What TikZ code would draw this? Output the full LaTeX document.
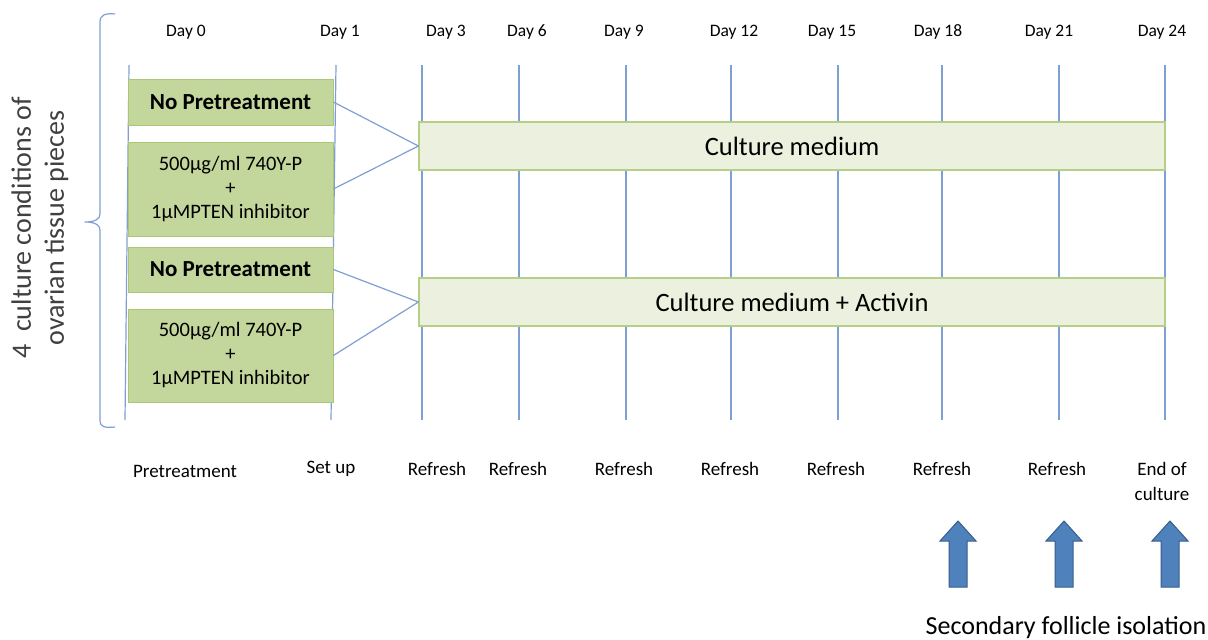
\documentclass[tikz,border=0pt]{standalone}
\usepackage{fontspec}
\setmainfont{Carlito}
\definecolor{vline}{HTML}{7F9FD3}
\definecolor{gfill}{HTML}{C3D69B}
\definecolor{gdraw}{HTML}{A9C774}
\definecolor{lfill}{HTML}{EBF1DE}
\definecolor{ldraw}{HTML}{B5CF85}
\definecolor{afill}{HTML}{4F81BD}
\definecolor{adraw}{HTML}{385D8A}
\definecolor{sidetext}{HTML}{404040}
\tikzset{
  vl/.style={draw=vline, line width=1.2pt},
  gbox/.style={draw=gdraw, fill=gfill, line width=0.8pt, minimum width=205pt, inner sep=0pt, align=center, text=black},
  lbox/.style={draw=ldraw, fill=lfill, line width=1.2pt, minimum width=746pt, minimum height=48pt, inner sep=0pt, font=\fontsize{26.5}{30}\selectfont, text=black},
  conn/.style={draw=vline, line width=1.2pt},
  daylab/.style={font=\fontsize{17.5}{20}\selectfont, text=black, inner sep=0pt},
  botlab/.style={font=\fontsize{19}{25}\selectfont, text=black, inner sep=0pt, align=center},
  uparrow/.style={draw=adraw, fill=afill, line width=1pt}
}
\begin{document}
\begin{tikzpicture}[x=1pt,y=-1pt]
\useasboundingbox (0,0) rectangle (1208,640);
% vertical timeline lines
\draw[vl] (129,65) -- (125,420);
\draw[vl] (336,65) -- (331,420);
\foreach \xx in {422,519,626,731,838,942,1059,1165}
  \draw[vl] (\xx,65) -- (\xx,420);
% day labels
\node[daylab] (d0) at (186,32) {Day 0};
\node[daylab] (d1) at (340,32) {Day 1};
\node[daylab] (d3) at (446,32) {Day 3};
\node[daylab] (d6) at (527,32) {Day 6};
\node[daylab] (d9) at (624,32) {Day 9};
\node[daylab] (d12) at (734,32) {Day 12};
\node[daylab] (d15) at (832,32) {Day 15};
\node[daylab] (d18) at (938,32) {Day 18};
\node[daylab] (d21) at (1049,32) {Day 21};
\node[daylab] (d24) at (1162,32) {Day 24};
% green boxes
\node[gbox, minimum height=46pt, font=\bfseries\fontsize{23}{24}\selectfont] (b1) at (230.5,102) {No Pretreatment};
\node[gbox, minimum height=94pt, font=\fontsize{20.5}{24}\selectfont] (b2) at (230.5,189) {500µg/ml 740Y-P\\+\\1µMPTEN inhibitor};
\node[gbox, minimum height=45pt, font=\bfseries\fontsize{23}{24}\selectfont] (b3) at (230.5,269.5) {No Pretreatment};
\node[gbox, minimum height=93pt, font=\fontsize{20.5}{24}\selectfont] (b4) at (230.5,355.5) {500µg/ml 740Y-P\\+\\1µMPTEN inhibitor};
% culture boxes
\node[lbox] (c1) at (792,146) {Culture medium};
\node[lbox] (c2) at (792,302) {Culture medium + Activin};
% connectors
\draw[conn] (b1.east) -- (c1.west);
\draw[conn] (b2.east) -- (c1.west);
\draw[conn] (b3.east) -- (c2.west);
\draw[conn] (b4.east) -- (c2.west);
% brace
\draw[vline, line width=1.2pt, line join=round]
  (115,14) .. controls (105,13) and (100,15) .. (100,22)
  -- (100,214) .. controls (100,219) and (95,222) .. (85,222)
  .. controls (95,222) and (100,225) .. (100,230)
  -- (100,421) .. controls (100,427) and (105,428) .. (115,427);
% side text
\node[rotate=90, font=\fontsize{28}{33}\selectfont, text=sidetext, align=center, inner sep=0pt] (side) at (40,228) {4\ \ culture conditions of\\ovarian tissue pieces};
% bottom labels
\node[botlab] (p0) at (185,471) {Pretreatment};
\node[botlab] (p1) at (331,469) {Set up};
\node[botlab] (p3) at (437,469) {Refresh};
\node[botlab] (p6) at (518,469) {Refresh};
\node[botlab] (p9) at (624,469) {Refresh};
\node[botlab] (p12) at (730,469) {Refresh};
\node[botlab] (p15) at (836,469) {Refresh};
\node[botlab] (p18) at (942,469) {Refresh};
\node[botlab] (p21) at (1057,469) {Refresh};
\node[botlab, anchor=north] (p24) at (1162,462) {End of\\culture};
% block arrows
\foreach \cx/\nm in {958/a1,1064/a2,1170/a3}{
  \draw[uparrow] (\cx-9,587) -- (\cx-9,541) -- (\cx-18,541) -- (\cx,521) -- (\cx+18,541) -- (\cx+9,541) -- (\cx+9,587) -- cycle;
}
\node[font=\fontsize{26}{28}\selectfont, text=black, inner sep=0pt, anchor=base] (sfi) at (1066,634) {Secondary follicle isolation};
\end{tikzpicture}
\end{document}
